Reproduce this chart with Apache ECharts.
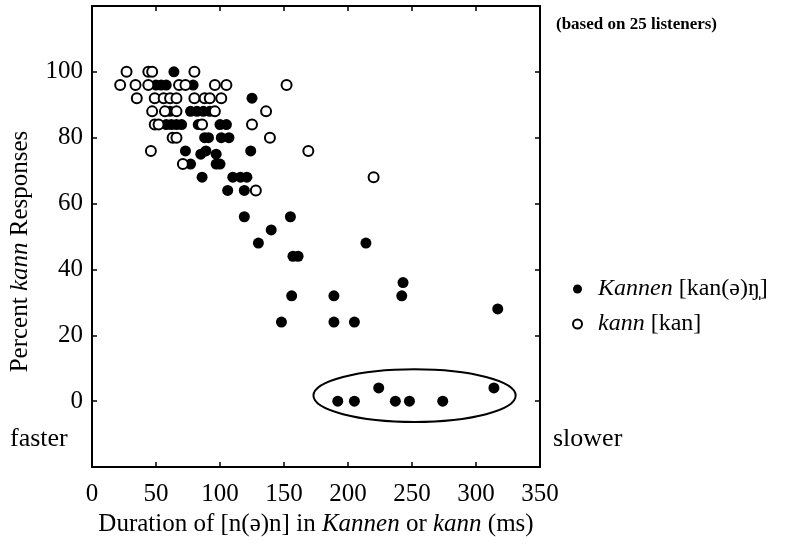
<!DOCTYPE html>
<html>
<head>
<meta charset="utf-8">
<script src="https://cdn.jsdelivr.net/npm/echarts@6/dist/echarts.min.js"></script>
<style>
html, body { margin: 0; padding: 0; background: #fff; }
#main { width: 797px; height: 545px; }
</style>
</head>
<body>
<div id="main"></div>
<script>
// Kannen [kan(ə)ŋ] responses (filled dots)
var kannenDur = [64, 50, 54, 58, 79, 125, 61, 77, 82, 87, 92, 58, 62, 66, 70, 83, 100, 105,
	88, 91, 101, 107, 73, 89, 124, 85, 97, 77, 97, 100, 86, 110, 116, 121, 106, 119,
	119, 155, 140, 130, 214, 157, 161, 243, 156, 189, 242, 317, 148, 189, 205,
	224, 314, 192, 205, 237, 248, 274];
var kannenPct = [100, 96, 96, 96, 96, 92, 88, 88, 88, 88, 88, 84, 84, 84, 84, 84, 84, 84,
	80, 80, 80, 80, 76, 76, 76, 75, 75, 72, 72, 72, 68, 68, 68, 68, 64, 64,
	56, 56, 52, 48, 48, 44, 44, 36, 32, 32, 32, 28, 24, 24, 24,
	4, 4, 0, 0, 0, 0, 0];
// kann [kan] responses (open circles)
var kannDur = [27, 44, 47, 80, 22, 34, 44, 68, 73, 96, 105, 152,
	35, 49, 56, 61, 66, 80, 88, 92, 101, 47, 57, 66, 96, 136,
	49, 52, 86, 125, 63, 66, 139, 46, 169, 71, 220, 128];
var kannPct = [100, 100, 100, 100, 96, 96, 96, 96, 96, 96, 96, 96,
	92, 92, 92, 92, 92, 92, 92, 92, 92, 88, 88, 88, 88, 88,
	84, 84, 84, 84, 80, 80, 80, 76, 76, 72, 68, 64];

var xMin = 0, xMax = 350, xStep = 50;
var yMin = -20, yMax = 120, yStep = 20;
var yLabelMin = 0, yLabelMax = 100;

// circled "fast" tokens
var ringCenter = [252, 1.7];
var ringRadius = [79, 8];

var font = 'Liberation Serif';

function pairs(xs, ys) {
	var out = [];
	for (var i = 0; i < xs.length; i++) out.push([xs[i], ys[i]]);
	return out;
}

var chart = echarts.init(document.getElementById('main'));

var axisLine = { show: true, onZero: false, lineStyle: { color: '#000', width: 2 } };
var tick = { show: true, inside: true, length: 5, lineStyle: { color: '#000', width: 1.5 } };

var option = {
	animation: false,
	backgroundColor: '#fff',
	title: {
		text: '(based on 25 listeners)',
		left: 551,
		top: 11,
		textStyle: { fontFamily: font, fontSize: 17, fontWeight: 'bold', color: '#000' }
	},
	grid: { left: 92, right: 257, top: 6, bottom: 78 },
	legend: {
		orient: 'vertical',
		left: 567,
		top: 272,
		itemWidth: 9,
		itemHeight: 9,
		itemGap: 11,
		data: ['Kannen', 'kann'],
		formatter: function (name) {
			if (name === 'Kannen') return '{i|Kannen} [kan(\u0259)\u014B\u0329]';
			return '{i|kann} [kan]';
		},
		textStyle: {
			fontFamily: font, fontSize: 24, color: '#000',
			rich: { i: { fontFamily: font, fontSize: 24, fontStyle: 'italic', color: '#000', padding: [0, 0, 0, 11] } }
		}
	},
	xAxis: [{
		type: 'value', min: xMin, max: xMax, interval: xStep,
		position: 'bottom',
		axisLine: axisLine, axisTick: tick, splitLine: { show: false },
		axisLabel: { margin: 15, fontFamily: font, fontSize: 25, color: '#000' },
		name: 'Duration of [n(\u0259)n] in {i|Kannen} or {i|kann} (ms)',
		nameLocation: 'middle',
		nameGap: 43,
		nameTextStyle: {
			fontFamily: font, fontSize: 25, color: '#000',
			rich: { i: { fontFamily: font, fontSize: 25, fontStyle: 'italic', color: '#000' } }
		}
	}, {
		type: 'value', min: xMin, max: xMax, interval: xStep,
		position: 'top',
		axisLine: axisLine, axisTick: tick, splitLine: { show: false },
		axisLabel: { show: false }
	}],
	yAxis: [{
		type: 'value', min: yMin, max: yMax, interval: yStep,
		position: 'left',
		axisLine: axisLine, axisTick: tick, splitLine: { show: false },
		axisLabel: {
			margin: 9, fontFamily: font, fontSize: 25, color: '#000',
			formatter: function (v) { return (v < yLabelMin || v > yLabelMax) ? '' : String(v); }
		},
		name: 'Percent {i|kann} Responses',
		nameLocation: 'middle',
		nameGap: 59,
		nameTextStyle: {
			fontFamily: font, fontSize: 25, color: '#000',
			padding: [0, 30, 0, 0],
			rich: { i: { fontFamily: font, fontSize: 25, fontStyle: 'italic', color: '#000' } }
		}
	}, {
		type: 'value', min: yMin, max: yMax, interval: yStep,
		position: 'right',
		axisLine: axisLine, axisTick: tick, splitLine: { show: false },
		axisLabel: { show: false }
	}],
	series: [{
		name: 'Kannen',
		type: 'scatter',
		symbol: 'circle',
		symbolSize: 11,
		itemStyle: { color: '#000', opacity: 1 },
		data: pairs(kannenDur, kannenPct)
	}, {
		name: 'kann',
		type: 'scatter',
		symbol: 'circle',
		symbolSize: 10,
		itemStyle: { color: '#fff', borderColor: '#000', borderWidth: 2, opacity: 1 },
		data: pairs(kannDur, kannPct)
	}]
};
chart.setOption(option);

var c = chart.convertToPixel({ xAxisIndex: 0, yAxisIndex: 0 }, ringCenter);
var e = chart.convertToPixel({ xAxisIndex: 0, yAxisIndex: 0 },
	[ringCenter[0] + ringRadius[0], ringCenter[1] + ringRadius[1]]);

chart.setOption({
	graphic: [{
		type: 'ellipse',
		shape: { cx: c[0], cy: c[1], rx: e[0] - c[0], ry: c[1] - e[1] },
		style: { fill: 'none', stroke: '#000', lineWidth: 2 },
		z: 10
	}, {
		type: 'text',
		left: 10,
		top: 426,
		style: { text: 'faster', fontFamily: font, fontSize: 26, fill: '#000' }
	}, {
		type: 'text',
		left: 553,
		top: 426,
		style: { text: 'slower', fontFamily: font, fontSize: 26, fill: '#000' }
	}]
});
</script>
</body>
</html>
